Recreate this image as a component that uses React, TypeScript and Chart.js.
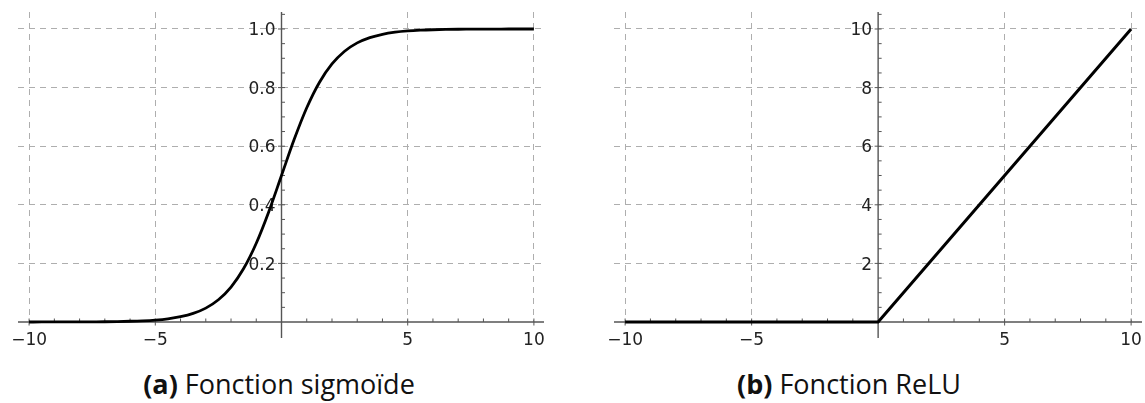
import React, { useEffect, useRef } from "react";
import { Chart, registerables } from "chart.js";

Chart.register(...registerables);

// ---- Data ----
const sigmoidX = [
  -10, -9.5, -9, -8.5, -8, -7.5, -7, -6.5, -6, -5.5, -5, -4.5, -4, -3.5, -3, -2.5, -2, -1.5, -1, -0.5,
  0, 0.5, 1, 1.5, 2, 2.5, 3, 3.5, 4, 4.5, 5, 5.5, 6, 6.5, 7, 7.5, 8, 8.5, 9, 9.5, 10,
];
const sigmoidY = [
  0.0000, 0.0001, 0.0001, 0.0002, 0.0003, 0.0006, 0.0009, 0.0015, 0.0025, 0.0041, 0.0067, 0.0110,
  0.0180, 0.0293, 0.0474, 0.0759, 0.1192, 0.1824, 0.2689, 0.3775, 0.5, 0.6225, 0.7311, 0.8176,
  0.8808, 0.9241, 0.9526, 0.9707, 0.9820, 0.9890, 0.9933, 0.9959, 0.9975, 0.9985, 0.9991, 0.9994,
  0.9997, 0.9998, 0.9999, 0.9999, 1.0,
];
const reluX = [-10, 0, 10];
const reluY = [0, 0, 10];

const xTickValues = [-10, -5, 5, 10];
const xTickLabels = ["\u221210", "\u22125", "5", "10"];
const sigmoidYTicks = [0.2, 0.4, 0.6, 0.8, 1.0];
const sigmoidYLabels = ["0.2", "0.4", "0.6", "0.8", "1.0"];
const reluYTicks = [2, 4, 6, 8, 10];
const reluYLabels = ["2", "4", "6", "8", "10"];
const sigmoidMinorStep = 0.05;
const reluMinorStep = 0.5;
const xMinorStep = 1;

const captionA = "Fonction sigmoïde";
const captionB = "Fonction ReLU";

// ---- Styles ----
const GRID = "#aeaeae";
const AXIS = "#555555";
const LABEL = "#222222";
const TICK_FONT = '17px "DejaVu Sans"';

function makeAxesPlugin(yTicks: number[], yLabels: string[], yMinor: number) {
  return {
    id: "originAxes",
    beforeDatasetsDraw(chart: any) {
      const { ctx, chartArea } = chart;
      const x = chart.scales.x;
      const y = chart.scales.y;
      const x0 = x.getPixelForValue(0);
      const y0 = y.getPixelForValue(0);
      ctx.save();
      ctx.setLineDash([]);
      ctx.strokeStyle = AXIS;
      ctx.lineWidth = 1.4;
      ctx.beginPath();
      ctx.moveTo(chartArea.left, y0);
      ctx.lineTo(chartArea.right, y0);
      ctx.moveTo(x0, chartArea.top);
      ctx.lineTo(x0, y0 + 16);
      ctx.stroke();

      ctx.lineWidth = 1;
      ctx.beginPath();
      for (let k = Math.ceil(x.min / xMinorStep); k * xMinorStep <= x.max; k++) {
        const v = k * xMinorStep;
        if (v === 0) continue;
        const px = x.getPixelForValue(v);
        const major = xTickValues.includes(v);
        ctx.moveTo(px, y0 - 3.5);
        ctx.lineTo(px, major ? y0 + 3.5 : y0);
      }
      for (let k = 1; k * yMinor <= y.max + 1e-9; k++) {
        const v = k * yMinor;
        const py = y.getPixelForValue(v);
        const major = yTicks.some((t) => Math.abs(t - v) < 1e-9);
        ctx.moveTo(major ? x0 - 3.5 : x0, py);
        ctx.lineTo(x0 + 3.5, py);
      }
      ctx.stroke();

      ctx.fillStyle = LABEL;
      ctx.font = TICK_FONT;
      ctx.textBaseline = "alphabetic";
      ctx.textAlign = "center";
      xTickValues.forEach((v, i) => {
        ctx.fillText(xTickLabels[i], x.getPixelForValue(v), y0 + 23);
      });
      ctx.textAlign = "right";
      yTicks.forEach((v, i) => {
        ctx.fillText(yLabels[i], x0 - 6, y.getPixelForValue(v) + 6.2);
      });
      ctx.restore();
    },
  };
}

function makeConfig(
  xs: number[],
  ys: number[],
  yTicks: number[],
  yLabels: string[],
  yMinor: number,
  yMax: number,
  xMin: number,
  xMax: number,
  padRight: number,
  smooth: boolean,
  width: number
): any {
  return {
    type: "line",
    data: {
      datasets: [
        {
          data: xs.map((v, i) => ({ x: v, y: ys[i] })),
          borderColor: "#000000",
          borderWidth: width,
          pointRadius: 0,
          fill: false,
          cubicInterpolationMode: smooth ? "monotone" : "default",
          tension: 0,
          clip: false,
        },
      ],
    },
    options: {
      animation: false,
      responsive: false,
      maintainAspectRatio: false,
      layout: { padding: { left: 18, top: 12, right: padRight, bottom: 38 } },
      plugins: { legend: { display: false }, tooltip: { enabled: false } },
      scales: {
        x: {
          type: "linear",
          min: xMin,
          max: xMax,
          afterBuildTicks: (s: any) => {
            s.ticks = xTickValues.map((v) => ({ value: v }));
          },
          ticks: { display: false },
          grid: { color: GRID, lineWidth: 1, drawTicks: false },
          border: { display: false, dash: [6, 5] },
        },
        y: {
          type: "linear",
          min: 0,
          max: yMax,
          afterBuildTicks: (s: any) => {
            s.ticks = yTicks.map((v) => ({ value: v }));
          },
          ticks: { display: false },
          grid: { color: GRID, lineWidth: 1, drawTicks: false },
          border: { display: false, dash: [6, 5] },
        },
      },
    },
    plugins: [makeAxesPlugin(yTicks, yLabels, yMinor)],
  };
}

export default function App() {
  const leftRef = useRef<HTMLCanvasElement | null>(null);
  const rightRef = useRef<HTMLCanvasElement | null>(null);

  useEffect(() => {
    const left = new Chart(
      leftRef.current as HTMLCanvasElement,
      makeConfig(sigmoidX, sigmoidY, sigmoidYTicks, sigmoidYLabels, sigmoidMinorStep, 1.058, -10.44, 10.4, 16, true, 2.8)
    );
    const right = new Chart(
      rightRef.current as HTMLCanvasElement,
      makeConfig(reluX, reluY, reluYTicks, reluYLabels, reluMinorStep, 10.58, -10.44, 10.43, 3, false, 3)
    );
    return () => {
      left.destroy();
      right.destroy();
    };
  }, []);

  const capStyle: React.CSSProperties = {
    position: "absolute",
    top: 369,
    fontFamily: '"Open Sans", "Noto Sans", sans-serif',
    fontSize: 27,
    lineHeight: "30px",
    color: "#111",
    textAlign: "center",
    whiteSpace: "nowrap",
  };

  return (
    <div
      style={{
        position: "absolute",
        left: 0,
        top: 0,
        width: 1145,
        height: 403,
        background: "#ffffff",
        overflow: "hidden",
      }}
    >
      <canvas ref={leftRef} width={560} height={360} style={{ position: "absolute", left: 0, top: 0 }} />
      <canvas ref={rightRef} width={549} height={360} style={{ position: "absolute", left: 596, top: 0 }} />
      <div style={{ ...capStyle, left: 0, width: 558 }}>
        <b>(a)</b> {captionA}
      </div>
      <div style={{ ...capStyle, left: 649, width: 400 }}>
        <b>(b)</b> {captionB}
      </div>
    </div>
  );
}
